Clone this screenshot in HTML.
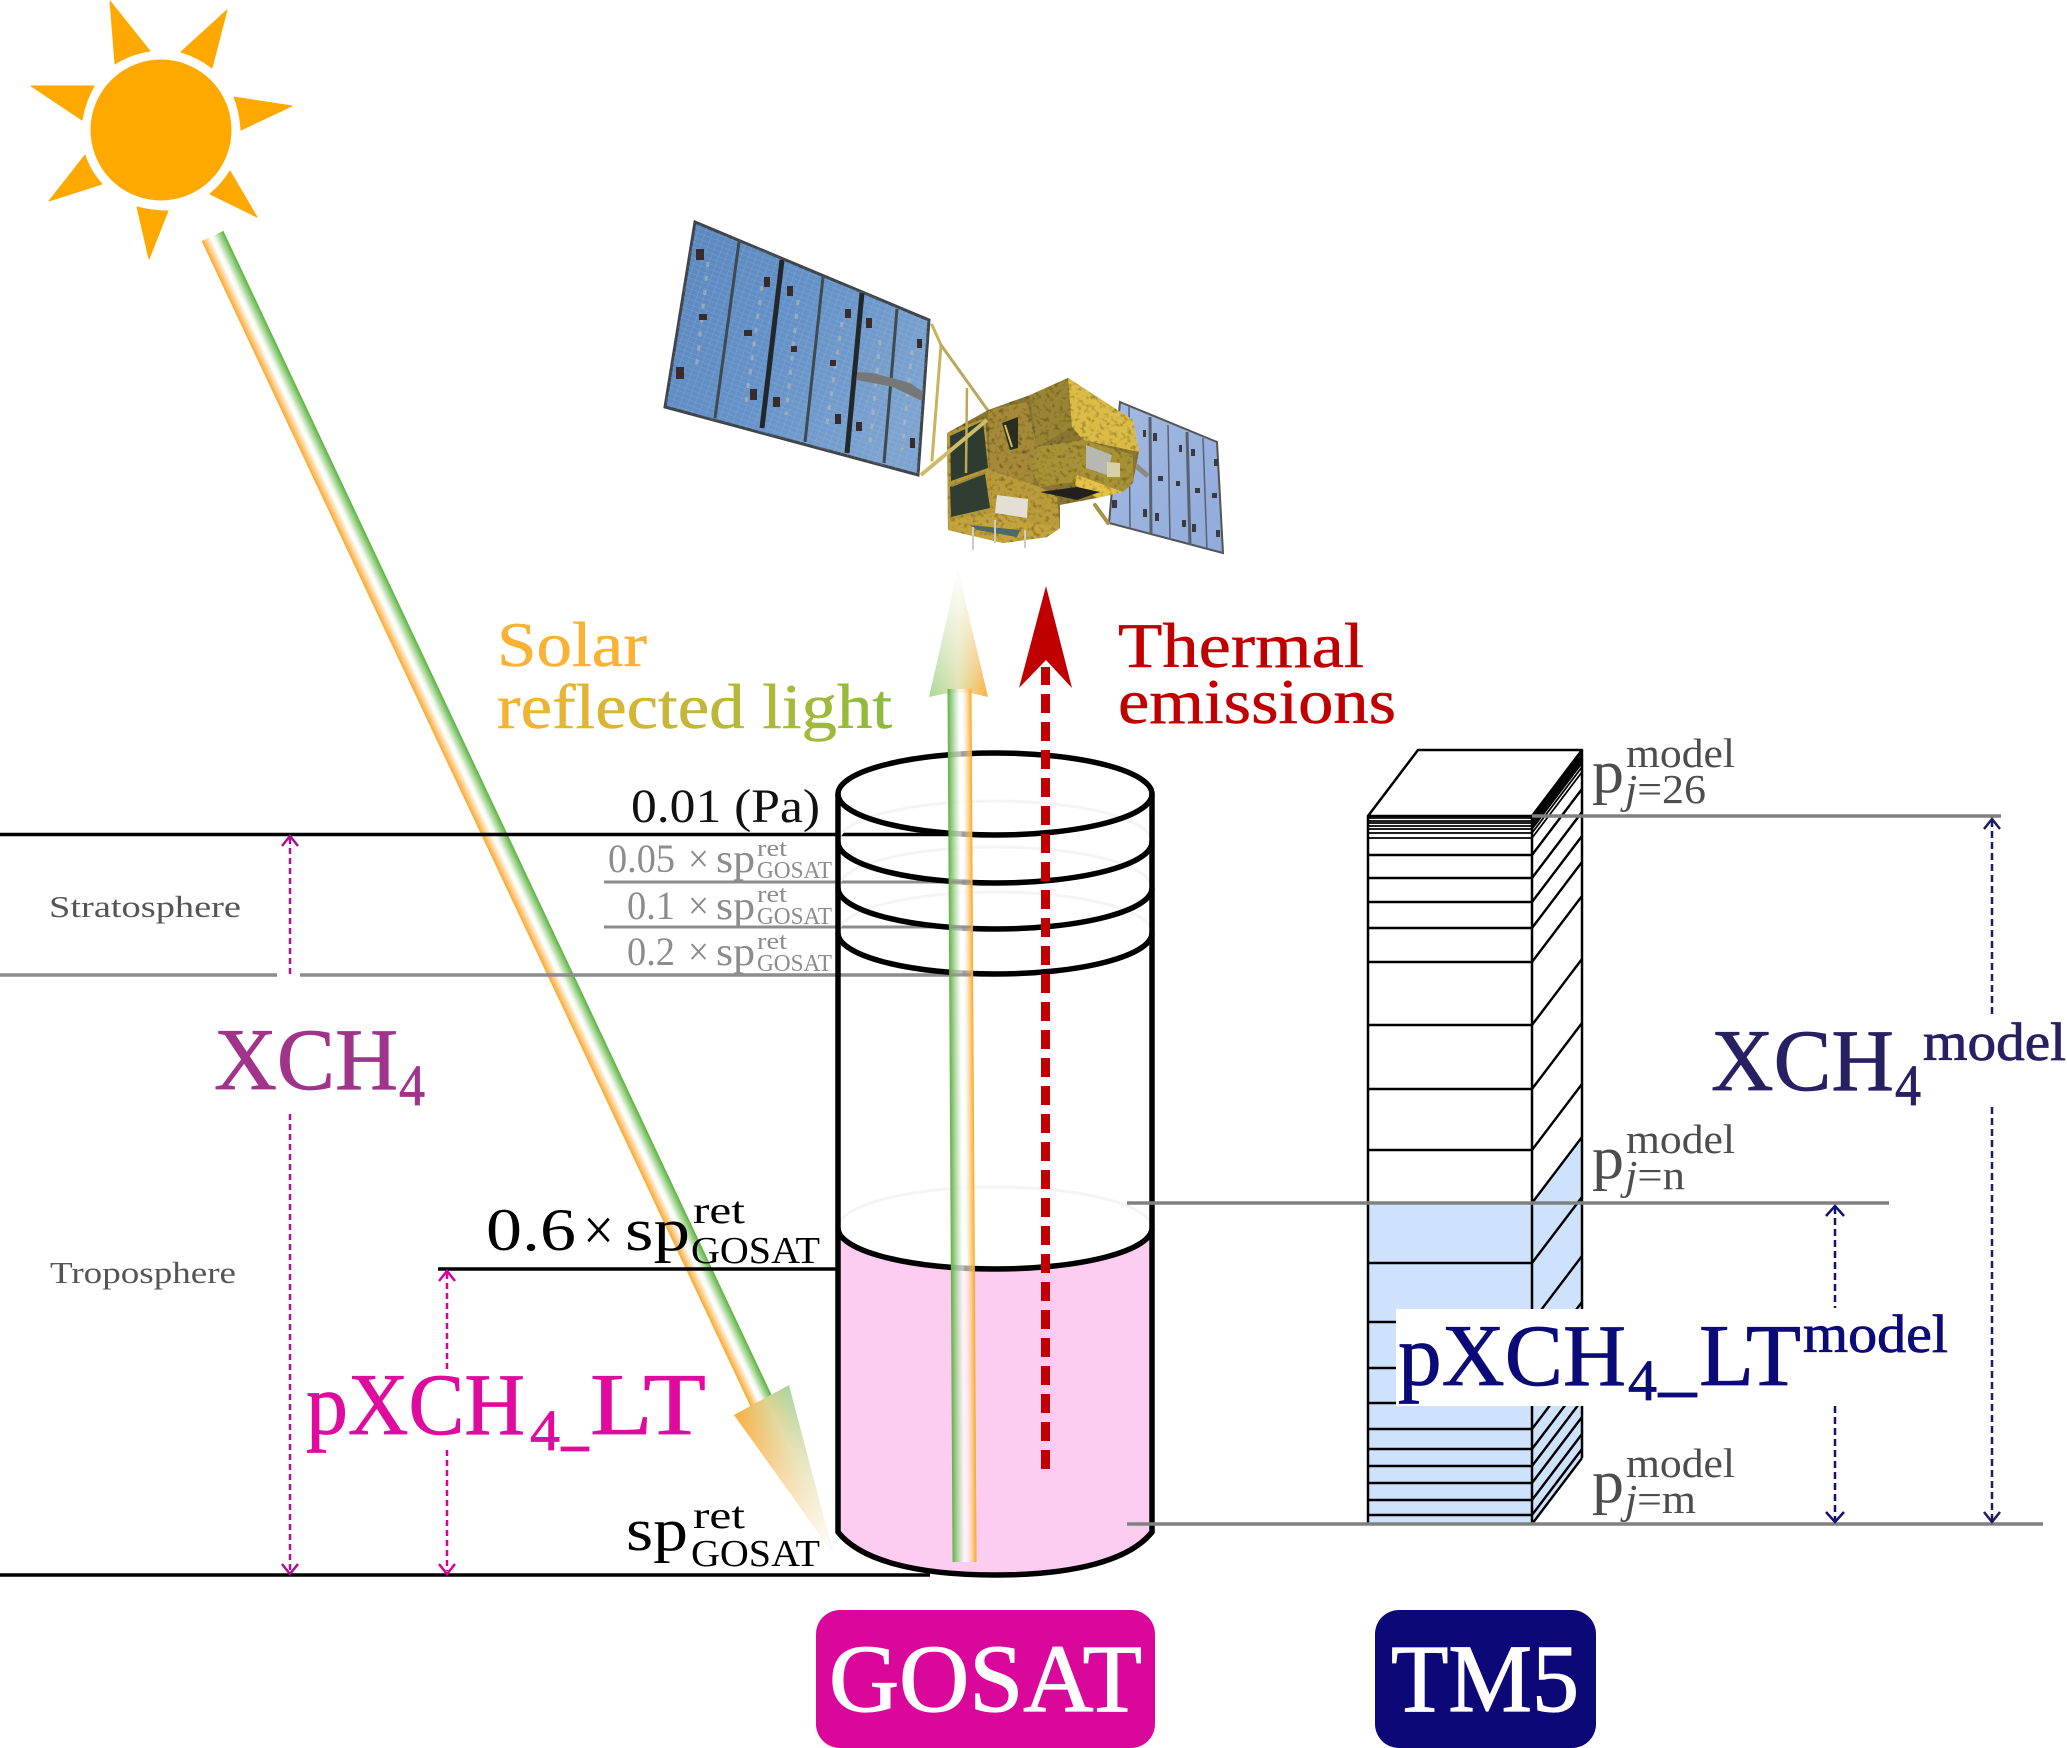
<!DOCTYPE html>
<html><head><meta charset="utf-8"><title>GOSAT TM5 diagram</title>
<style>html,body{margin:0;padding:0;background:#fff}svg{display:block}
text{font-family:"Liberation Serif","DejaVu Serif",serif}</style></head>
<body>
<svg xmlns="http://www.w3.org/2000/svg" width="2067" height="1748" viewBox="0 0 2067 1748">
<defs>
<linearGradient id="beam" x1="0" x2="1" y1="0" y2="0">
<stop offset="0" stop-color="#faa62a"/><stop offset=".42" stop-color="#fff"/><stop offset=".55" stop-color="#f4faf2"/><stop offset="1" stop-color="#58b13a"/></linearGradient>
<linearGradient id="headD" gradientUnits="userSpaceOnUse" x1="734" y1="1415" x2="789" y2="1385">
<stop offset="0" stop-color="#fbab3c"/><stop offset=".55" stop-color="#dcd28e"/><stop offset="1" stop-color="#a8d6a0"/></linearGradient>
<linearGradient id="fadeD" gradientUnits="userSpaceOnUse" x1="761" y1="1400" x2="833" y2="1553">
<stop offset="0" stop-color="#fff" stop-opacity="0"/><stop offset="1" stop-color="#fff" stop-opacity="1"/></linearGradient>
<linearGradient id="vbeam" x1="0" x2="1" y1="0" y2="0">
<stop offset="0" stop-color="#5fb043"/><stop offset=".5" stop-color="#fff" stop-opacity=".75"/><stop offset=".62" stop-color="#fff" stop-opacity=".6"/><stop offset="1" stop-color="#fba61f"/></linearGradient>
<linearGradient id="headU" gradientUnits="userSpaceOnUse" x1="929" y1="0" x2="988" y2="0">
<stop offset="0" stop-color="#a9d99a"/><stop offset=".5" stop-color="#dfe2b0"/><stop offset="1" stop-color="#fcb03e"/></linearGradient>
<linearGradient id="fadeU" gradientUnits="userSpaceOnUse" x1="0" y1="697" x2="0" y2="570">
<stop offset="0" stop-color="#fff" stop-opacity="0"/><stop offset="1" stop-color="#fff" stop-opacity="1"/></linearGradient>
<linearGradient id="reflect" gradientUnits="userSpaceOnUse" x1="497" y1="0" x2="892" y2="0">
<stop offset="0" stop-color="#f9b233"/><stop offset="1" stop-color="#8bbb3c"/></linearGradient>
<linearGradient id="panel" x1="0" x2="1" y1="0" y2=".6">
<stop offset="0" stop-color="#5a86bd"/><stop offset=".55" stop-color="#6592c8"/><stop offset="1" stop-color="#7da3cf"/></linearGradient>
<linearGradient id="panel2" x1="0" x2="1" y1="0" y2="1">
<stop offset="0" stop-color="#a3bae0"/><stop offset="1" stop-color="#90aadb"/></linearGradient>
<pattern id="cells" width="7" height="5" patternUnits="userSpaceOnUse" patternTransform="rotate(20)">
<path d="M0 0H7M0 0V5" stroke="#b6cfea" stroke-opacity=".3" stroke-width="1" fill="none"/></pattern>
<filter id="crumple" x="0" y="0" width="100%" height="100%">
<feTurbulence type="fractalNoise" baseFrequency=".22" numOctaves="2" seed="7" result="n"/>
<feColorMatrix in="n" type="matrix" values="1.7 0 0 0 .15  1.7 0 0 0 .15  1.6 0 0 0 .1  0 0 0 0 1" result="m"/>
<feComposite in="m" in2="SourceAlpha" operator="in" result="c"/>
<feBlend in="SourceGraphic" in2="c" mode="multiply"/>
</filter>
</defs>
<rect width="2067" height="1748" fill="#fff"/>

<!-- Sun -->
<g fill="#ffa900" stroke="#ffa900" stroke-width="1" stroke-linejoin="round">
<circle cx="161" cy="130" r="70"/>
<path d="M110 1L150 51Q130 54 115 64Z"/>
<path d="M227 10L181 52Q198 57 212 68Z"/>
<path d="M292 106L234 97Q240 112 241 130Z"/>
<path d="M257 217L230 171Q222 184 210 194Z"/>
<path d="M149 259L137 207Q152 211 168 211Z"/>
<path d="M49 201L85 155Q90 171 102 184Z"/>
<path d="M31 86L94 86Q85 102 82 120Z"/>
</g>

<!-- Satellite: right wing -->
<polygon points="1120,402 1217,442 1223,553 1109,523" fill="url(#panel2)" stroke="#555" stroke-width="2"/>
<g fill="none" stroke="#5a6270">
<path d="M1129 407L1130 528" stroke-width="1.500"/>
<path d="M1150 417L1151 533" stroke-width="3"/>
<path d="M1168 425L1170 540" stroke-width="1.500"/>
<path d="M1187 432L1190 545" stroke-width="3"/>
<path d="M1203 438L1207 550" stroke-width="1.500"/>
</g>
<path d="M1135 465L1148 476" stroke="#8a8a80" stroke-width="5"/>
<g fill="#3a3a44"><rect x="1143" y="430" width="3" height="7"/><rect x="1153" y="433" width="4" height="8"/><rect x="1179" y="445" width="3" height="7"/><rect x="1191" y="449" width="4" height="7"/><rect x="1214" y="459" width="4" height="7"/><rect x="1158" y="476" width="5" height="5"/><rect x="1176" y="481" width="4" height="5"/><rect x="1195" y="488" width="5" height="5"/><rect x="1212" y="493" width="5" height="5"/><rect x="1112" y="500" width="5" height="8"/><rect x="1143" y="509" width="4" height="8"/><rect x="1155" y="513" width="4" height="8"/><rect x="1182" y="520" width="4" height="7"/><rect x="1192" y="524" width="4" height="8"/><rect x="1216" y="530" width="4" height="7"/></g>

<!-- Satellite: left wing -->
<polygon points="695,222 929,320 918,475 665,407" fill="url(#panel)" stroke="#3e4449" stroke-width="3"/>
<polygon points="695,222 929,320 918,475 665,407" fill="url(#cells)"/>
<g fill="none" stroke="#c9c4ae" stroke-opacity=".5" stroke-width="3" stroke-dasharray="5 9">
<path d="M708 262L696 372M762 286L745 410M798 300L786 415M842 322L826 430M880 340L870 445M912 350L902 450"/>
</g>
<g stroke="#3f4a50" fill="none">
<path d="M739 242L715 418" stroke-width="3"/>
<path d="M782 260L762 428" stroke-width="5" stroke="#22272b"/>
<path d="M823 277L805 442" stroke-width="3"/>
<path d="M862 293L847 453" stroke-width="5" stroke="#22272b"/>
<path d="M897 309L884 463" stroke-width="3"/>
</g>
<polygon points="857,372 872,373 892,378 910,383 923,392 922,401 893,387 873,383 857,380" fill="#777"/>
<g fill="#3a2b2a">
<rect x="696" y="249" width="8" height="11"/><rect x="764" y="277" width="6" height="10"/><rect x="699" y="314" width="8" height="6"/><rect x="744" y="330" width="8" height="6"/><rect x="676" y="367" width="8" height="12"/><rect x="750" y="389" width="7" height="11"/><rect x="787" y="286" width="6" height="10"/><rect x="845" y="309" width="6" height="9"/><rect x="791" y="346" width="6" height="6"/><rect x="830" y="360" width="6" height="6"/><rect x="773" y="397" width="7" height="10"/><rect x="835" y="414" width="6" height="10"/><rect x="866" y="318" width="6" height="10"/><rect x="917" y="339" width="5" height="9"/><rect x="856" y="422" width="6" height="9"/><rect x="910" y="438" width="5" height="10"/>
</g>

<!-- Satellite: struts and body -->
<g fill="none" stroke-linecap="round">
<path d="M932 325L941 345L932 460" stroke="#c9b35c" stroke-width="3"/>
<path d="M941 345L989 412" stroke="#b8a95c" stroke-width="3"/>
<path d="M1095 505L1108 523" stroke="#a79445" stroke-width="4"/>
</g>
<g filter="url(#crumple)">
<polygon points="947,433 988,410 1030,395 1068,378 1133,420 1139,452 1133,483 1123,492 1097,498 1060,505 1060,528 1047,537 1003,543 948,530" fill="#8a7632"/>
<polygon points="947,433 985,418 990,473 992,510 1003,543 948,530" fill="#b79a3c"/>
<polygon points="988,410 1027,402 1037,447 1033,483 1000,492 990,473" fill="#a58a3a"/>
<polygon points="1030,395 1068,378 1072,427 1037,447" fill="#9a8535"/>
<polygon points="1068,378 1133,420 1139,452 1083,440 1072,427" fill="#dcbc48"/>
<polygon points="1037,447 1083,440 1133,455 1133,483 1123,492 1087,480 1040,487 1033,473" fill="#a89238"/>
<polygon points="1077,475 1123,492 1097,498 1075,485" fill="#e6c348"/>
<polygon points="990,470 1040,487 1057,497 1060,528 1047,537 1003,543 992,510" fill="#bb9c3c"/>
<polygon points="948,520 995,513 1033,523 1060,528 1047,537 1003,543 948,530" fill="#c4a440"/>
</g>
<polygon points="950,436 983,421 988,468 951,481" fill="#2d3b30"/>
<polygon points="950,487 985,474 990,508 951,517" fill="#2f3d33"/>
<path d="M952 486L986 472" stroke="#9c8a40" stroke-width="2"/>
<path d="M967 388L966 473" stroke="#bda955" stroke-width="2.500"/>
<polygon points="1002,423 1018,417 1018,448 1010,450" fill="#2b2c20"/>
<path d="M1005 425L1012 447" stroke="#d7be5a" stroke-width="2"/>
<polygon points="997,495 1028,499 1027,518 995,513" fill="#e3dfd4"/>
<polygon points="1086,445 1112,455 1107,475 1086,468" fill="#b8b8b2"/>
<polygon points="1107,462 1120,463 1120,477 1107,477" fill="#d8d0a8"/>
<polygon points="1040,492 1077,487 1100,492 1077,500" fill="#22201c"/>
<polygon points="970,525 1020,530 1017,537 977,530" fill="#4c6a66"/>
<g stroke="#cfcdbf" stroke-width="2" fill="none"><path d="M973 527V550M995 520V543M1025 530V548"/></g>
<path d="M921 475L987 420" stroke="#cdbd68" stroke-width="4" fill="none"/>

<!-- Solar incoming beam -->
<g transform="translate(212.500,236) rotate(-25.220)"><rect x="-12" y="0" width="24" height="1298" fill="url(#beam)"/></g>
<polygon points="734,1415 789,1385 833,1553" fill="url(#headD)"/>
<polygon points="734,1415 789,1385 833,1553" fill="url(#fadeD)"/>

<!-- Horizontal atmosphere lines -->
<g fill="none">
<path d="M0 834.500H975" stroke="#000" stroke-width="3.500"/>
<path d="M604 882H971M604 927H971" stroke="#8c8c8c" stroke-width="3"/>
<path d="M0 975H277M300 975H971" stroke="#8c8c8c" stroke-width="3.500"/>
<path d="M438 1269H975" stroke="#000" stroke-width="3.500"/>
<path d="M0 1575H930" stroke="#000" stroke-width="3.500"/>
</g>

<!-- Cylinder -->
<path d="M838 1228A157 41 0 0 0 1152 1228L1152 1532C1130 1560 1075 1575 995 1575C915 1575 860 1560 838 1532Z" fill="#fccdf0"/>
<g fill="none" stroke="#f4f4f4" stroke-width="3">
<path d="M838 842A157 41 0 0 1 1152 842M838 888A157 41 0 0 1 1152 888M838 933A157 41 0 0 1 1152 933"/>
<path d="M838 1228A157 41 0 0 1 1152 1228"/>
</g>
<g fill="none" stroke="#000" stroke-width="5.500">
<ellipse cx="995" cy="794" rx="157" ry="41"/>
<path d="M838 794V1532C860 1560 915 1575 995 1575C1075 1575 1130 1560 1152 1532V794"/>
<path d="M838 842A157 41 0 0 0 1152 842M838 888A157 41 0 0 0 1152 888M838 933A157 41 0 0 0 1152 933M838 1228A157 41 0 0 0 1152 1228"/>
</g>

<!-- Upward solar reflected arrow -->
<polygon points="929,697 948,693 971,693 988,697 958,570" fill="url(#headU)"/>
<polygon points="929,697 948,693 971,693 988,697 958,570" fill="url(#fadeU)"/>
<g transform="translate(947.500,689) skewX(.33)"><rect x="0" y="0" width="24" height="873" fill="url(#vbeam)"/></g>
<path d="M950 882H971M950 927H971M950 975H971" stroke="#8c8c8c" stroke-width="3" stroke-opacity=".75" fill="none"/>

<!-- Thermal red arrow -->
<path d="M1045.500 1469V667" stroke="#c00000" stroke-width="9" stroke-dasharray="19 9" fill="none"/>
<polygon points="1046,586 1072,688 1046,660 1019,688" fill="#c00000"/>

<!-- Model column -->
<rect x="1368" y="1203" width="164" height="321" fill="#cfe2fd"/>
<polygon points="1532,1203 1582,1137 1582,1458 1532,1524" fill="#cfe2fd"/>
<g fill="none" stroke="#000" stroke-linejoin="round">
<path d="M1368 816L1418 750H1582L1532 816Z" stroke-width="2.500"/>
<path d="M1368 816V1524M1532 816V1524M1582 750V1458" stroke-width="2.500"/>
<g stroke-width="1.800">
<path d="M1368 818H1532L1582 752M1368 821H1532L1582 755M1368 823H1532L1582 757M1368 826H1532L1582 760M1368 829H1532L1582 763M1368 833H1532L1582 767M1368 838H1532L1582 772"/>
</g>
<g stroke-width="2.400">
<path d="M1368 855H1532L1582 789M1368 878H1532L1582 812M1368 902H1532L1582 836M1368 928H1532L1582 862M1368 962H1532L1582 896M1368 1025H1532L1582 959M1368 1089H1532L1582 1023M1368 1150H1532L1582 1084M1532 1203L1582 1137M1368 1263H1532L1582 1197M1368 1322H1532L1582 1256M1368 1368H1532L1582 1302M1368 1403H1532L1582 1337M1368 1429H1532L1582 1363M1368 1449H1532L1582 1383M1368 1466H1532L1582 1400M1368 1483H1532L1582 1417M1368 1500H1532L1582 1434M1368 1515H1532L1582 1449M1532 1524L1582 1458"/>
</g>
</g>
<g fill="none" stroke="#808080" stroke-width="3.500">
<path d="M1532 816H2001"/><path d="M1127 1203H1889"/><path d="M1127 1524H2043"/>
</g>

<!-- White mask behind label -->
<rect x="1396" y="1309" width="554" height="97" fill="#fff"/>

<!-- Dashed arrows -->
<g fill="none" stroke-width="2.500">
<g stroke="#a8128a">
<path d="M290 838V978M290 1114V1571" stroke-dasharray="6 4"/>
<path d="M282 846L290 836L298 846M282 1564L290 1574L298 1564"/>
</g>
<g stroke="#d6009b">
<path d="M447 1273V1371M447 1450V1571" stroke-dasharray="6 4"/>
<path d="M439 1281L447 1271L455 1281M439 1564L447 1574L455 1564"/>
</g>
<g stroke="#14107a">
<path d="M1835 1207V1308M1835 1406V1520" stroke-dasharray="7 4"/>
<path d="M1826 1216L1835 1206L1844 1216M1826 1512L1835 1522L1844 1512"/>
</g>
<g stroke="#1e1a60">
<path d="M1992 820V1015M1992 1107V1520" stroke-dasharray="7 4"/>
<path d="M1984 829L1992 819L2000 829M1984 1512L1992 1522L2000 1512"/>
</g>
</g>

<!-- Labels -->
<g font-size="64">
<text x="497" y="666" fill="#f9b233" stroke="#f9b233" stroke-width=".5" textLength="150" lengthAdjust="spacingAndGlyphs">Solar</text>
<text x="497" y="728" fill="url(#reflect)" stroke="url(#reflect)" stroke-width=".5" textLength="395" lengthAdjust="spacingAndGlyphs">reflected light</text>
<text x="1118" y="667" fill="#c00000" stroke="#c00000" stroke-width=".5" textLength="246" lengthAdjust="spacingAndGlyphs">Thermal</text>
<text x="1118" y="723" fill="#c00000" stroke="#c00000" stroke-width=".5" textLength="278" lengthAdjust="spacingAndGlyphs">emissions</text>
</g>
<text x="631" y="822" font-size="48" fill="#111" textLength="189" lengthAdjust="spacingAndGlyphs">0.01 (Pa)</text>

<g fill="#8c8c8c">
<text x="608" y="872" font-size="40" textLength="67" lengthAdjust="spacingAndGlyphs">0.05</text>
<text x="688" y="872" font-size="40" textLength="21" lengthAdjust="spacingAndGlyphs">×</text>
<text x="716" y="872" font-size="40" textLength="39" lengthAdjust="spacingAndGlyphs">sp</text>
<text x="757" y="856" font-size="24" textLength="30" lengthAdjust="spacingAndGlyphs">ret</text>
<text x="757" y="878" font-size="24" textLength="75" lengthAdjust="spacingAndGlyphs">GOSAT</text>
<text x="627" y="919" font-size="40" textLength="48" lengthAdjust="spacingAndGlyphs">0.1</text>
<text x="688" y="919" font-size="40" textLength="21" lengthAdjust="spacingAndGlyphs">×</text>
<text x="716" y="919" font-size="40" textLength="39" lengthAdjust="spacingAndGlyphs">sp</text>
<text x="757" y="902" font-size="24" textLength="30" lengthAdjust="spacingAndGlyphs">ret</text>
<text x="757" y="924" font-size="24" textLength="75" lengthAdjust="spacingAndGlyphs">GOSAT</text>
<text x="627" y="965" font-size="40" textLength="48" lengthAdjust="spacingAndGlyphs">0.2</text>
<text x="688" y="965" font-size="40" textLength="21" lengthAdjust="spacingAndGlyphs">×</text>
<text x="716" y="965" font-size="40" textLength="39" lengthAdjust="spacingAndGlyphs">sp</text>
<text x="757" y="949" font-size="24" textLength="30" lengthAdjust="spacingAndGlyphs">ret</text>
<text x="757" y="971" font-size="24" textLength="75" lengthAdjust="spacingAndGlyphs">GOSAT</text>
</g>

<g fill="#555">
<text x="49" y="917" font-size="31" textLength="192" lengthAdjust="spacingAndGlyphs">Stratosphere</text>
<text x="50" y="1283" font-size="31" textLength="186" lengthAdjust="spacingAndGlyphs">Troposphere</text>
</g>

<g fill="#000">
<text x="486" y="1250" font-size="60" textLength="90" lengthAdjust="spacingAndGlyphs">0.6</text>
<text x="583" y="1250" font-size="60" textLength="31" lengthAdjust="spacingAndGlyphs">×</text>
<text x="625" y="1250" font-size="60" textLength="65" lengthAdjust="spacingAndGlyphs">sp</text>
<text x="693" y="1223" font-size="38" textLength="52" lengthAdjust="spacingAndGlyphs">ret</text>
<text x="691" y="1263" font-size="38" textLength="129" lengthAdjust="spacingAndGlyphs">GOSAT</text>
<text x="626" y="1550" font-size="60" textLength="62" lengthAdjust="spacingAndGlyphs">sp</text>
<text x="693" y="1528" font-size="38" textLength="52" lengthAdjust="spacingAndGlyphs">ret</text>
<text x="691" y="1566" font-size="38" textLength="129" lengthAdjust="spacingAndGlyphs">GOSAT</text>
</g>

<rect x="212" y="978" width="220" height="136" fill="#fff"/>
<g fill="#a0348a" stroke="#a0348a" stroke-width=".8">
<text x="214" y="1089" font-size="88" textLength="184" lengthAdjust="spacingAndGlyphs">XCH</text>
<text x="399" y="1105" font-size="58" textLength="26" lengthAdjust="spacingAndGlyphs">4</text>
</g>
<g fill="#df0a9e" stroke="#df0a9e" stroke-width=".8">
<text x="306" y="1434" font-size="88" textLength="219" lengthAdjust="spacingAndGlyphs">pXCH</text>
<text x="530" y="1450" font-size="58" textLength="30" lengthAdjust="spacingAndGlyphs">4</text>
<rect x="561" y="1447" width="28" height="4"/>
<text x="590" y="1434" font-size="88" textLength="116" lengthAdjust="spacingAndGlyphs">LT</text>
</g>

<g fill="#4d4d4d">
<text x="1592" y="792" font-size="60" textLength="32" lengthAdjust="spacingAndGlyphs">p</text>
<text x="1626" y="767" font-size="41" textLength="109" lengthAdjust="spacingAndGlyphs">model</text>
<text x="1625" y="803" font-size="41" textLength="81" lengthAdjust="spacingAndGlyphs"><tspan font-style="italic">j</tspan>=26</text>
<text x="1592" y="1178" font-size="60" textLength="32" lengthAdjust="spacingAndGlyphs">p</text>
<text x="1626" y="1153" font-size="41" textLength="109" lengthAdjust="spacingAndGlyphs">model</text>
<text x="1625" y="1189" font-size="41" textLength="60" lengthAdjust="spacingAndGlyphs"><tspan font-style="italic">j</tspan>=n</text>
<text x="1592" y="1502" font-size="60" textLength="32" lengthAdjust="spacingAndGlyphs">p</text>
<text x="1626" y="1477" font-size="41" textLength="109" lengthAdjust="spacingAndGlyphs">model</text>
<text x="1625" y="1513" font-size="41" textLength="71" lengthAdjust="spacingAndGlyphs"><tspan font-style="italic">j</tspan>=m</text>
</g>

<g fill="#272163" stroke="#272163" stroke-width=".8">
<text x="1711" y="1090" font-size="88" textLength="183" lengthAdjust="spacingAndGlyphs">XCH</text>
<text x="1895" y="1105" font-size="58" textLength="26" lengthAdjust="spacingAndGlyphs">4</text>
<text x="1923" y="1060" font-size="54" textLength="143" lengthAdjust="spacingAndGlyphs">model</text>
</g>

<g fill="#0a0a78" stroke="#0a0a78" stroke-width=".8">
<text x="1398" y="1385" font-size="88" textLength="228" lengthAdjust="spacingAndGlyphs">pXCH</text>
<text x="1628" y="1400" font-size="58" textLength="29" lengthAdjust="spacingAndGlyphs">4</text>
<rect x="1658" y="1393" width="39" height="4"/>
<text x="1699" y="1385" font-size="88" textLength="102" lengthAdjust="spacingAndGlyphs">LT</text>
<text x="1803" y="1352" font-size="54" textLength="145" lengthAdjust="spacingAndGlyphs">model</text>
</g>

<!-- Badges -->
<rect x="816" y="1610" width="339" height="138" rx="24" fill="#d9089a"/>
<text x="829" y="1711" font-size="96" fill="#fff" stroke="#fff" stroke-width="1.200" textLength="313" lengthAdjust="spacingAndGlyphs">GOSAT</text>
<rect x="1375" y="1610" width="221" height="138" rx="24" fill="#0c0878"/>
<text x="1391" y="1711" font-size="96" fill="#fff" stroke="#fff" stroke-width="1.200" textLength="188" lengthAdjust="spacingAndGlyphs">TM5</text>
</svg>
</body></html>
